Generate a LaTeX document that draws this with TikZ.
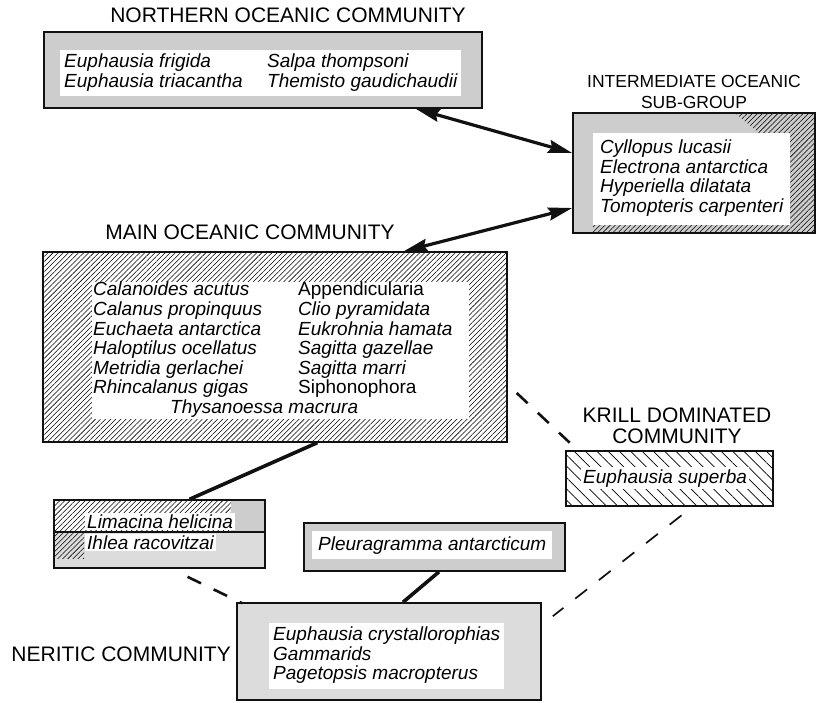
\documentclass[tikz,border=0pt]{standalone}
\usepackage{fontspec}
\setmainfont{Liberation Sans}
\usetikzlibrary{arrows.meta,patterns.meta}
\definecolor{Ink}{HTML}{111111}
\definecolor{Shade}{HTML}{CDCDCD}
\definecolor{PaleShade}{HTML}{DCDCDC}
\tikzset{
  hatchlines/.style={pattern={Lines[angle=45,distance=3.6pt,line width=0.55pt]}},
  frame/.style={draw=Ink, line width=1.6pt, fill=Shade, inner sep=0pt},
  paleframe/.style={frame, fill=PaleShade},
  hatchframe/.style={
    draw=Ink, line width=1.4pt, inner sep=0pt,
    preaction={fill=white}, hatchlines
  },
  sparseframe/.style={
    draw=Ink, line width=1.4pt, inner sep=0pt, preaction={fill=white},
    pattern={Lines[angle=-45,distance=8pt,line width=0.7pt]}
  },
  specieslist/.style={fill=white, inner sep=0pt, font=\fontsize{19}{20}\selectfont\itshape},
  heading/.style={inner sep=0pt, font=\fontsize{21}{21}\selectfont, align=center},
  twoway/.style={{Stealth[length=24pt,width=13pt,inset=3pt]}-{Stealth[length=24pt,width=13pt,inset=3pt]}, line width=3.2pt, draw=Ink},
  link/.style={line width=3.6pt, draw=Ink},
  dashlink/.style={line width=2.6pt, draw=Ink, dash pattern=on 15pt off 14pt},
  thindash/.style={line width=1.7pt, draw=Ink, dash pattern=on 15pt off 15pt}
}

\begin{document}
\begin{tikzpicture}[x=1pt,y=-1pt]
    \useasboundingbox (0,0) rectangle (818,703);
    \node[frame, minimum width=438pt, minimum height=76pt] (northern) at (263,70) {};
    \node[frame, minimum width=242pt, minimum height=120pt, path picture={
      \fill[hatchlines] ([xshift=-80pt]path picture bounding box.north east)
        -- (path picture bounding box.north east) -- (path picture bounding box.south east)
        -- ([xshift=20pt]path picture bounding box.south west)
        -- ([xshift=20pt,yshift=16pt]path picture bounding box.south west)
        -- ([xshift=-26pt,yshift=16pt]path picture bounding box.south east)
        -- ([xshift=-26pt,yshift=-45pt]path picture bounding box.north east) -- cycle;
    }] (inter) at (694,173) {};
    \node[hatchframe, minimum width=464pt, minimum height=190pt] (main) at (275,347) {};
    \node[sparseframe, minimum width=207pt, minimum height=55pt] (krill) at (669.5,478.5) {};
    \node[hatchframe, minimum width=211pt, minimum height=32pt, path picture={
      \fill[Shade] ([xshift=-34pt]path picture bounding box.north east) rectangle (path picture bounding box.south east);
    }] (limtop) at (159.5,516) {};
    \node[paleframe, minimum width=211pt, minimum height=36pt, path picture={
      \fill[hatchlines] (path picture bounding box.north west) rectangle ([xshift=30pt,yshift=10pt]path picture bounding box.south west);
    }] (limbot) at (159.5,550) {};
    \node[frame, minimum width=261pt, minimum height=48pt] (pleura) at (434.5,547) {};
    \node[paleframe, minimum width=304pt, minimum height=97pt] (neritic) at (389,651.5) {};

    \node[specieslist, anchor=north west, inner xsep=4pt, inner ysep=3pt] (northlist) at (60,50)
      {\begin{tabular}{@{}p{203pt}@{}l@{}}
        Euphausia frigida & Salpa thompsoni\\
        Euphausia triacantha & Themisto gaudichaudii
      \end{tabular}};
    \node[specieslist, font=\fontsize{19}{18.7}\selectfont\itshape, anchor=north west,
      inner xsep=7pt, inner ysep=7pt] (interlist) at (593,133)
      {\begin{tabular}{@{}l@{}}
        Cyllopus lucasii\\ Electrona antarctica\\ Hyperiella dilatata\\ Tomopteris carpenteri
      \end{tabular}};
    \node[specieslist, font=\fontsize{19}{19.2}\selectfont\itshape, anchor=north west,
      inner xsep=1pt, inner ysep=0pt] (mainlist) at (92,282)
      {\begin{tabular}{@{}p{205pt}@{}l@{\hspace{16pt}}}
        Calanoides acutus & \upshape Appendicularia\\
        Calanus propinquus & Clio pyramidata\\
        Euchaeta antarctica & Eukrohnia hamata\\
        Haloptilus ocellatus & Sagitta gazellae\\
        Metridia gerlachei & Sagitta marri\\
        Rhincalanus gigas & \upshape Siphonophora\\
        \multicolumn{2}{@{\hspace{77pt}}l@{}}{Thysanoessa macrura}
      \end{tabular}};
    \node[specieslist, anchor=base west, inner xsep=2pt, inner ysep=2pt] (krilllist) at (581,483) {Euphausia superba};
    \node[specieslist, anchor=base west, inner xsep=2pt, inner ysep=1.5pt] (limlist) at (85,528) {Limacina helicina};
    \node[specieslist, anchor=base west, inner xsep=2pt, inner ysep=1.5pt] (ihlealist) at (85,549) {Ihlea racovitzai};
    \node[specieslist, anchor=base west, inner xsep=6pt, inner ysep=5pt] (pleuralist) at (312,550) {Pleuragramma antarcticum};
    \node[specieslist, font=\fontsize{19}{18.5}\selectfont\itshape, anchor=north west,
      inner xsep=4pt, inner ysep=4pt] (neriticlist) at (269,623)
      {\begin{tabular}{@{}l@{}}
        Euphausia crystallorophias\\ Gammarids\\ Pagetopsis macropterus
      \end{tabular}};

    \node[heading, anchor=base] (northtitle) at (288,23) {NORTHERN OCEANIC COMMUNITY};
    \node[heading, anchor=north, font=\fontsize{17.5}{21}\selectfont] (intertitle) at (694,75) {INTERMEDIATE OCEANIC\\SUB-GROUP};
    \node[heading, anchor=base] (maintitle) at (250,240) {MAIN OCEANIC COMMUNITY};
    \node[heading, anchor=north] (krilltitle) at (677,408) {KRILL DOMINATED\\COMMUNITY};
    \node[heading, anchor=base east] (neritictitle) at (231,661) {NERITIC COMMUNITY};

    \draw[twoway] ([xshift=-67pt]northern.south east) -- ([yshift=20pt]inter.west);
    \draw[twoway] ([xshift=-104pt]main.north east) -- ([yshift=-35pt]inter.west);
    \draw[link] ([xshift=275pt]main.south west) -- ([xshift=30pt]limtop.north);
    \draw[link] ([xshift=4.5pt]pleura.south) -- ([xshift=14pt]neritic.north);
    \draw[dashlink] ([xshift=9pt,yshift=-46pt]main.east) -- ([xshift=4pt,yshift=8pt]krill.north west);
    \draw[thindash] ([xshift=12pt,yshift=-9pt]krill.south) -- ([xshift=11pt,yshift=-14pt]neritic.north east);
    \draw[dashlink] ([xshift=28pt,yshift=-8pt]limbot.south) -- ([xshift=6pt,yshift=-1pt]neritic.north west);
\end{tikzpicture}
\end{document}
